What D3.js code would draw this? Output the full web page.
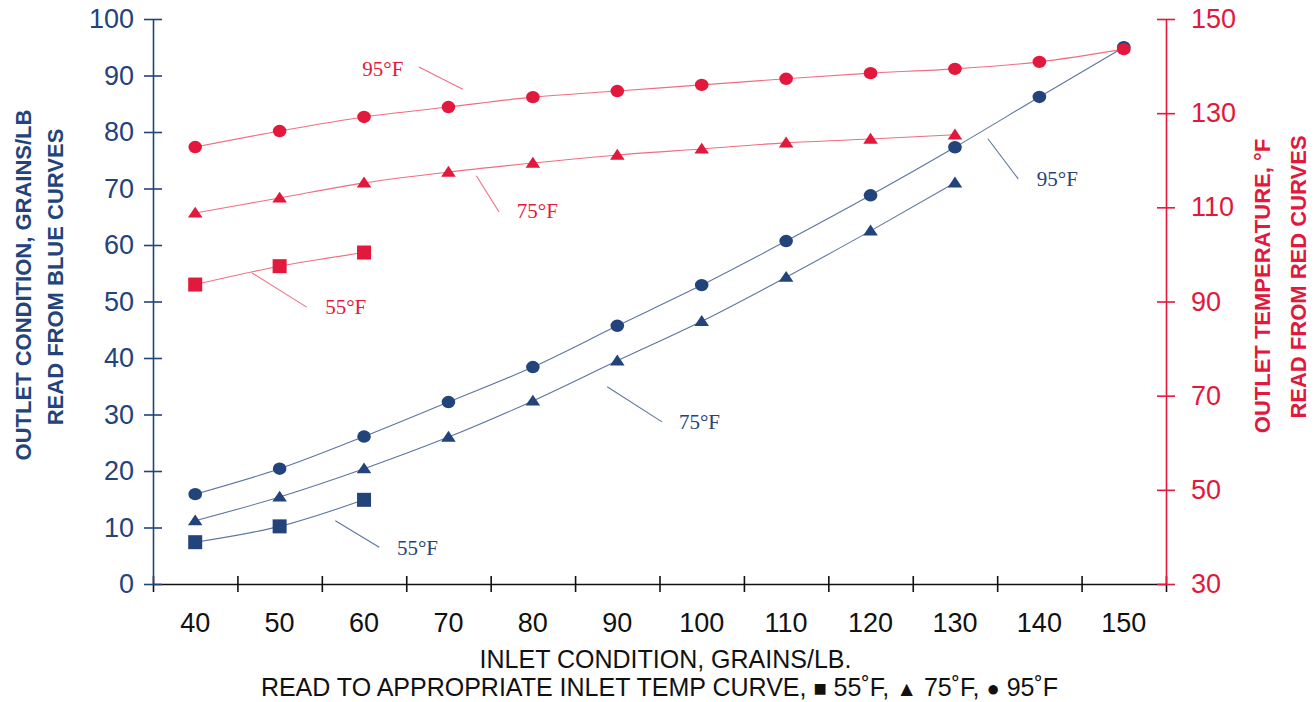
<!DOCTYPE html>
<html>
<head>
<meta charset="utf-8">
<script src="https://d3js.org/d3.v7.min.js" charset="utf-8"></script>
<style>
    body { margin: 0; background: #fff; }
    text { font-family: "Liberation Sans", Arial, sans-serif; }
    .note { font-family: "Liberation Serif", "Times New Roman", serif; font-size: 21px; }
</style>
</head>
<body>
<div id="chart_container"></div>
<script>
    // inlet condition, grains/lb
    const inletGrains = [40, 50, 60, 70, 80, 90, 100, 110, 120, 130, 140, 150];
    const xTickLabels = ['40', '50', '60', '70', '80', '90', '100', '110', '120', '130', '140', '150'];

    // outlet grains/lb (blue curves, left axis)
    const blue55 = [7.4, 10.2, 14.9];
    const blue75 = [11.2, 15.4, 20.4, 26.0, 32.4, 39.5, 46.5, 54.3, 62.5, 71.0];
    const blue95 = [15.9, 20.4, 26.1, 32.2, 38.4, 45.7, 52.9, 60.7, 68.8, 77.3, 86.2, 95.0];

    // outlet temperature °F (red curves, right axis)
    const red55 = [93.6, 97.5, 100.4];
    const red75 = [108.8, 112.0, 115.2, 117.5, 119.4, 121.1, 122.4, 123.7, 124.5, 125.4];
    const red95 = [122.8, 126.2, 129.2, 131.3, 133.4, 134.7, 136.0, 137.3, 138.5, 139.4, 140.9, 143.6];

    const leftTicks = [0, 10, 20, 30, 40, 50, 60, 70, 80, 90, 100];
    const rightTicks = [30, 50, 70, 90, 110, 130, 150];

    // curve labels: text position + leader line, in data units
    const redNotes = [
        { text: '95°F', x: 59.8, y: 137.9, x1: 66.5, y1: 139.8, x2: 71.7, y2: 135.1 },
        { text: '75°F', x: 78.1, y: 107.7, x1: 73.3, y1: 116.7, x2: 76.0, y2: 109.0 },
        { text: '55°F', x: 55.4, y: 87.3, x1: 46.7, y1: 96.1, x2: 53.2, y2: 88.8 }
    ];
    const blueNotes = [
        { text: '95°F', x: 139.7, y: 70.4, x1: 133.9, y1: 78.8, x2: 137.5, y2: 71.7 },
        { text: '75°F', x: 97.3, y: 27.4, x1: 88.8, y1: 34.9, x2: 95.3, y2: 28.7 },
        { text: '55°F', x: 63.9, y: 5.1, x1: 56.6, y1: 11.2, x2: 61.8, y2: 6.5 }
    ];

    var width = 1314,
        height = 702;
    var margin = { top: 19, right: 148, bottom: 118, left: 153 };

    const blue = '#23437b', blueLine = '#5d75a0';
    const red = '#e2183c', redLine = '#ef6f80';

    const svg = d3.select('#chart_container').append('svg')
        .attr('width', width)
        .attr('height', height);

    const x = d3.scaleLinear().domain([35, 155]).range([margin.left, width - margin.right]);
    const yL = d3.scaleLinear().domain([0, 100]).range([height - margin.bottom, margin.top]);
    const yR = d3.scaleLinear().domain([30, 150]).range([height - margin.bottom, margin.top]);

    const y0 = height - margin.bottom;

    // bottom axis (black), ticks between the labels
    const xAxis = svg.append('g')
        .attr('transform', `translate(0,${y0})`)
        .call(d3.axisBottom(x).tickValues(d3.range(35, 156, 10)).tickSize(8).tickSizeOuter(0).tickFormat(''));
    xAxis.select('.domain').attr('stroke', '#111').attr('stroke-width', 1.6);
    xAxis.selectAll('.tick line').attr('y1', -8).attr('stroke', '#111').attr('stroke-width', 1.6);

    svg.append('g').selectAll('text')
        .data(inletGrains)
        .join('text')
        .attr('x', d => x(d))
        .attr('y', y0 + 48)
        .attr('text-anchor', 'middle')
        .attr('font-size', 27)
        .attr('fill', '#111')
        .text((d, i) => xTickLabels[i]);

    // left axis (blue)
    const lAxis = svg.append('g')
        .attr('transform', `translate(${margin.left},0)`)
        .call(d3.axisLeft(yL).tickValues(leftTicks).tickSize(9).tickSizeOuter(0).tickPadding(10));
    lAxis.select('.domain').attr('stroke', blue).attr('stroke-width', 1.6);
    lAxis.selectAll('.tick line').attr('x2', 9).attr('x1', -9).attr('stroke', blue).attr('stroke-width', 1.6);
    lAxis.selectAll('.tick text').attr('fill', blue).attr('font-size', 27)
        .attr('font-family', '"Liberation Sans", Arial, sans-serif');

    // right axis (red)
    const rAxis = svg.append('g')
        .attr('transform', `translate(${width - margin.right},0)`)
        .call(d3.axisRight(yR).tickValues(rightTicks).tickSize(9).tickSizeOuter(0).tickPadding(16));
    rAxis.select('.domain').attr('stroke', red).attr('stroke-width', 1.6);
    rAxis.selectAll('.tick line').attr('x1', -9).attr('stroke', red).attr('stroke-width', 1.6);
    rAxis.selectAll('.tick text').attr('fill', red).attr('font-size', 27)
        .attr('font-family', '"Liberation Sans", Arial, sans-serif');

    // series
    const series = [
        { vals: blue55, y: yL, col: blue, lc: blueLine, shape: 'square' },
        { vals: blue75, y: yL, col: blue, lc: blueLine, shape: 'triangle' },
        { vals: blue95, y: yL, col: blue, lc: blueLine, shape: 'circle' },
        { vals: red55, y: yR, col: red, lc: redLine, shape: 'square' },
        { vals: red75, y: yR, col: red, lc: redLine, shape: 'triangle' },
        { vals: red95, y: yR, col: red, lc: redLine, shape: 'circle' }
    ];

    const tri = d3.symbol().type(d3.symbolTriangle).size(76);

    series.forEach(s => {
        const pts = s.vals.map((v, i) => [inletGrains[i], v]);
        const line = d3.line().curve(d3.curveMonotoneX).x(d => x(d[0])).y(d => s.y(d[1]));
        svg.append('path')
            .datum(pts)
            .attr('d', line)
            .attr('fill', 'none')
            .attr('stroke', s.lc)
            .attr('stroke-width', 1.1);

        const g = svg.append('g').attr('fill', s.col);
        if (s.shape === 'circle') {
            g.selectAll('ellipse').data(pts).join('ellipse')
                .attr('cx', d => x(d[0])).attr('cy', d => s.y(d[1]))
                .attr('rx', 6.8).attr('ry', 6.2);
        } else if (s.shape === 'square') {
            g.selectAll('rect').data(pts).join('rect')
                .attr('x', d => x(d[0]) - 7).attr('y', d => s.y(d[1]) - 7)
                .attr('width', 14).attr('height', 14);
        } else {
            g.selectAll('path').data(pts).join('path')
                .attr('transform', d => `translate(${x(d[0])},${s.y(d[1]) + 1}) scale(1.1,0.95)`)
                .attr('d', tri);
        }
    });

    // curve labels
    function drawNotes(notes, y, col, lc) {
        const g = svg.append('g');
        g.selectAll('line').data(notes).join('line')
            .attr('x1', d => x(d.x1)).attr('y1', d => y(d.y1))
            .attr('x2', d => x(d.x2)).attr('y2', d => y(d.y2))
            .attr('stroke', lc).attr('stroke-width', 1.1);
        g.selectAll('text').data(notes).join('text')
            .attr('class', 'note')
            .attr('x', d => x(d.x)).attr('y', d => y(d.y))
            .attr('fill', col)
            .text(d => d.text);
    }
    drawNotes(blueNotes, yL, blue, blueLine);
    drawNotes(redNotes, yR, red, redLine);

    // axis titles
    const cx = (margin.left + width - margin.right) / 2;
    svg.append('text')
        .attr('x', cx + 6).attr('y', 668)
        .attr('text-anchor', 'middle').attr('font-size', 25).attr('fill', '#111')
        .text('INLET CONDITION, GRAINS/LB.');
    const sub = svg.append('text')
        .attr('x', cx).attr('y', 696)
        .attr('text-anchor', 'middle').attr('font-size', 25).attr('fill', '#111');
    sub.append('tspan').text('READ TO APPROPRIATE INLET TEMP CURVE, ');
    sub.append('tspan').attr('font-size', 22).text('■');
    sub.append('tspan').text(' 55˚F, ');
    sub.append('tspan').attr('font-size', 21).text('▲');
    sub.append('tspan').text(' 75˚F, ');
    sub.append('tspan').attr('font-size', 22).text('●');
    sub.append('tspan').text(' 95˚F');

    function sideTitle(lines, col) {
        lines.forEach(l => {
            svg.append('text')
                .attr('transform', `translate(${l.x},${l.y}) rotate(-90)`)
                .attr('text-anchor', 'middle')
                .attr('font-size', 22)
                .attr('font-weight', 'bold')
                .attr('fill', col)
                .text(l.t);
        });
    }
    sideTitle([
        { t: 'OUTLET CONDITION, GRAINS/LB', x: 31, y: 285 },
        { t: 'READ FROM BLUE CURVES', x: 63, y: 277 }
    ], blue);
    sideTitle([
        { t: 'OUTLET TEMPERATURE, °F', x: 1270, y: 286 },
        { t: 'READ FROM RED CURVES', x: 1306, y: 277 }
    ], red);
</script>
</body>
</html>
